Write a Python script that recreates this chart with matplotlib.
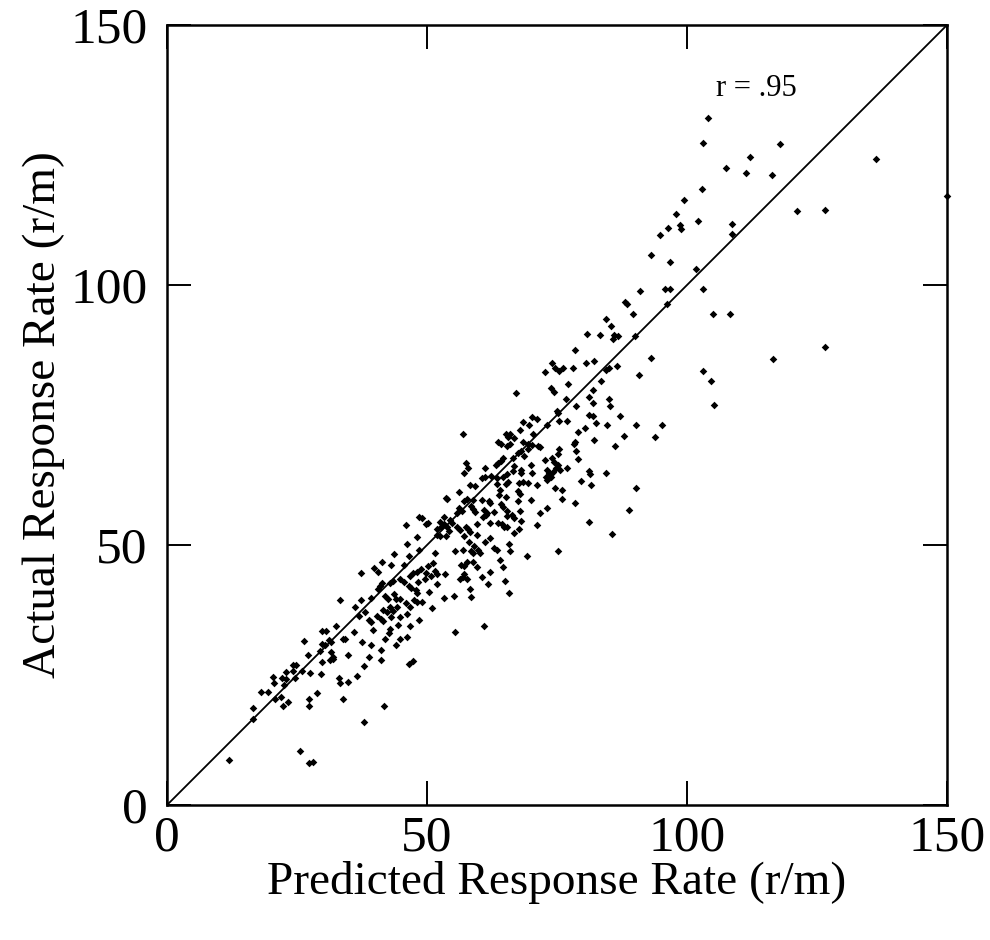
import numpy as np
import matplotlib
matplotlib.use("Agg")
import matplotlib.pyplot as plt

# predicted (x) vs actual (y) response rates
pred = [11.9, 25.6, 27.4, 28.0, 16.5, 16.5, 18.1, 19.4, 20.7, 22.0, 22.4, 23.2, 20.3, 20.6, 22.1, 22.8,
        22.5, 22.9, 24.2, 24.2, 24.8, 24.7, 26.0, 26.3, 27.1, 27.5, 29.7, 27.4, 27.4, 28.9, 29.4, 29.9,
        29.9, 30.3, 29.9, 30.6, 31.2, 31.5, 31.6, 31.3, 31.9, 32.0, 32.5, 33.0, 33.3, 33.8, 33.9, 34.3,
        34.9, 34.9, 36.0, 36.6,
        46.0, 49.9, 48.0, 46.2, 48.5, 51.6, 43.7, 46.5, 41.3, 43.1, 39.9, 40.6, 37.3, 45.6, 48.1, 48.9,
        50.2, 51.1, 49.9, 50.7, 51.6, 52.0, 53.4, 41.3, 41.0, 42.9, 43.5, 44.8, 45.6, 46.7, 47.4, 48.3,
        49.7, 52.0, 46.5, 47.0, 47.8, 48.1, 50.3, 40.6, 39.2, 42.0, 42.5, 43.7, 44.0, 44.9, 46.0, 47.5,
        48.0, 49.0, 37.4, 33.3, 36.1, 38.1, 37.0, 40.4, 41.5, 42.3, 42.9, 43.5, 44.2, 46.7, 46.1, 44.9,
        41.2, 41.6, 43.0, 38.8, 39.2, 39.6, 42.9, 42.6, 44.4, 48.4, 46.8, 50.9, 53.3, 37.5, 42.0, 44.8,
        46.2, 39.2, 44.0, 41.2, 38.9, 41.2, 37.8, 46.5, 47.4,
        57.0, 57.5, 57.8, 57.2, 58.3, 59.3, 56.1, 53.7, 53.9, 57.6, 57.2, 58.9, 56.1, 56.7, 55.7, 58.5,
        58.9, 59.2, 48.5, 49.0, 50.1, 53.2, 52.5, 53.3, 54.4, 54.8, 52.0, 52.7, 53.9, 54.3, 55.7, 56.3,
        57.5, 57.9, 58.3, 59.7, 51.9, 52.5, 53.7, 57.1, 59.7,
        63.4, 65.1, 65.6, 67.6, 68.5, 69.5, 64.0, 63.8, 67.4, 67.8, 65.1, 62.0, 62.2, 60.6, 67.5, 69.9,
        64.3, 64.6, 61.0, 61.5, 62.9, 65.4, 67.9, 60.8, 61.3, 65.3, 66.4, 66.8, 62.1, 63.7, 64.4, 64.8,
        68.1, 71.1, 65.3, 66.8, 67.6, 62.1, 61.1, 65.8, 62.9, 63.4, 66.0, 69.3, 64.0, 64.7, 62.2, 60.6,
        64.9, 61.8, 65.7, 58.0, 59.0, 59.8, 60.1, 58.4, 58.9, 57.0, 55.3, 57.6, 58.8, 56.6, 57.2, 59.6,
        57.1, 57.0, 57.6, 56.3, 58.3, 58.4, 55.1,
        67.1, 73.9, 74.4, 77.1, 81.2, 76.7, 78.7, 74.9, 75.2, 70.2, 71.2, 68.5, 69.7, 73.1, 75.3, 76.9,
        81.1, 82.5, 67.8, 65.1, 65.6, 66.0, 66.8, 70.3, 68.5, 69.5, 70.2, 63.7, 64.3, 65.4, 65.9, 71.3,
        71.7, 78.5, 78.3, 79.0, 80.3, 82.1, 64.7, 64.2, 66.6, 67.4, 68.0, 68.7, 69.4, 63.3, 63.7, 61.1,
        66.8, 66.6, 68.0, 68.1, 70.0, 70.2, 72.6, 73.1, 74.0, 74.4, 75.1, 75.4, 74.8, 75.2, 75.6, 78.7,
        79.0, 76.9, 73.4, 74.3, 73.9, 72.8, 73.1, 81.1, 79.7, 60.6, 61.2, 62.3, 63.4, 64.7, 65.3, 81.5,
        74.7, 76.0, 71.1, 73.1, 78.5, 71.8,
        88.1, 88.4, 96.2, 89.7, 84.4, 85.3, 80.8, 83.3, 86.0, 86.7, 85.8, 89.9, 78.5, 80.6, 82.2, 74.0,
        72.6, 74.7, 75.4, 76.1, 78.0, 84.5, 84.9, 86.6, 93.1, 90.7, 83.5, 82.0, 84.9, 85.2, 82.0, 87.1,
        82.0, 84.7, 90.2, 95.2,
        87.9, 93.8, 86.1, 81.3, 84.5, 90.2, 76.0, 88.9, 81.2, 85.6, 75.2,
        93.1, 96.7, 101.7, 91.0, 95.8, 96.7, 103.1, 104.9, 108.3, 116.6, 103.1, 104.7, 105.2,
        103.1, 117.8, 112.1, 107.4, 111.3, 116.3, 102.8, 99.4, 121.1, 126.6, 98.7, 98.8, 102.1, 108.7,
        108.7, 126.5, 136.3, 149.9, 104.0,
        94.8, 96.3, 97.9, 37.9, 41.7, 55.4, 61.0]
actual = [8.7, 10.4, 8.1, 8.3, 16.5, 18.7, 21.8, 21.8, 20.3, 20.7, 19.0, 19.8, 24.6, 23.4, 24.4, 24.3,
          23.0, 25.6, 25.7, 26.9, 26.9, 24.5, 25.8, 31.5, 28.9, 25.3, 25.2, 20.4, 19.0, 21.5, 29.6, 27.5,
          31.0, 30.8, 33.5, 33.5, 31.7, 31.4, 29.5, 27.8, 28.0, 28.5, 34.4, 24.5, 23.4, 20.3, 32.0, 32.0,
          28.8, 23.7, 33.3, 24.9,
          53.8, 54.0, 51.6, 50.2, 49.1, 48.4, 48.3, 47.8, 46.7, 46.1, 45.6, 44.8, 44.7, 46.1, 44.8, 45.3,
          46.0, 46.6, 44.7, 44.1, 45.0, 44.5, 44.4, 42.6, 42.2, 42.7, 43.1, 43.4, 42.9, 44.0, 44.7, 42.9,
          43.5, 42.5, 42.2, 41.7, 41.4, 40.8, 41.0, 41.6, 39.9, 40.2, 39.7, 40.6, 39.7, 39.7, 38.9, 39.5,
          39.0, 39.1, 39.5, 39.5, 38.0, 37.2, 36.4, 36.4, 37.5, 37.1, 38.0, 37.3, 38.1, 38.0, 36.7, 36.1,
          35.7, 35.3, 36.1, 35.6, 35.2, 33.7, 33.8, 33.0, 34.6, 35.6, 34.5, 37.9, 39.8, 31.4, 32.0, 32.0,
          32.4, 30.7, 30.7, 29.9, 28.4, 27.9, 26.8, 27.2, 27.6,
          71.4, 65.7, 64.9, 63.9, 61.6, 61.3, 60.2, 59.0, 58.8, 58.9, 58.5, 58.7, 57.2, 56.6, 56.2, 57.5,
          56.9, 56.3, 55.3, 55.2, 54.3, 55.3, 54.5, 54.1, 54.8, 54.3, 53.1, 53.4, 53.4, 52.6, 53.5, 52.9,
          53.5, 53.1, 52.5, 54.1, 51.9, 51.7, 51.8, 51.8, 51.9,
          61.7, 61.8, 62.2, 61.9, 62.2, 61.9, 60.6, 59.7, 60.3, 59.9, 59.3, 58.4, 58.0, 58.7, 58.5, 58.7,
          57.9, 57.3, 56.8, 56.2, 56.4, 56.6, 56.6, 55.4, 55.8, 55.6, 55.7, 55.2, 54.3, 54.3, 54.1, 53.5,
          54.6, 53.8, 53.4, 52.4, 53.1, 51.4, 50.6, 50.2, 49.4, 49.0, 48.9, 47.9, 47.1, 45.7, 44.9, 43.8,
          43.0, 42.5, 40.8, 50.5, 49.8, 49.0, 48.5, 48.8, 48.4, 49.0, 48.9, 46.7, 46.8, 46.2, 46.0, 45.7,
          44.4, 43.9, 43.4, 43.4, 41.6, 40.0, 40.2,
          79.3, 80.1, 79.5, 81.0, 78.4, 78.1, 76.8, 75.8, 75.3, 74.7, 74.3, 73.7, 73.0, 73.0, 73.8, 73.8,
          75.0, 73.4, 72.2, 71.4, 70.8, 71.4, 70.6, 71.4, 69.8, 69.5, 69.3, 69.8, 69.5, 69.1, 69.4, 69.1,
          68.8, 69.9, 69.5, 71.7, 72.5, 70.2, 66.7, 66.2, 66.8, 67.7, 68.1, 67.2, 68.5, 65.4, 65.8, 64.9,
          65.2, 64.3, 64.5, 63.8, 65.3, 63.8, 66.4, 64.5, 66.7, 66.0, 67.5, 68.5, 64.8, 65.3, 64.5, 68.1,
          66.6, 64.8, 63.8, 64.0, 63.0, 63.0, 62.5, 64.3, 62.3, 62.9, 63.1, 63.3, 62.8, 63.1, 63.7, 61.6,
          61.0, 60.6, 61.5, 57.1, 58.0, 56.1,
          96.7, 96.4, 96.3, 94.5, 93.4, 92.1, 90.6, 90.3, 90.4, 90.2, 89.7, 90.2, 87.5, 85.0, 85.4, 85.0,
          83.3, 84.0, 83.4, 84.1, 84.1, 83.7, 84.0, 84.5, 86.0, 82.6, 81.5, 79.8, 78.1, 76.8, 77.4, 74.9,
          74.8, 73.1, 73.0, 73.1,
          71.0, 70.8, 69.0, 63.7, 63.8, 61.0, 58.8, 56.7, 54.4, 52.1, 48.8,
          105.8, 104.4, 103.0, 98.8, 99.3, 99.3, 99.3, 94.4, 94.5, 85.8, 83.4, 81.6, 77.0,
          127.4, 127.2, 124.7, 122.5, 121.5, 121.2, 118.5, 116.4, 114.2, 114.4, 111.6, 110.7, 112.4, 111.7,
          109.9, 88.1, 124.2, 117.1, 132.1,
          109.6, 111.0, 113.7, 16.0, 19.0, 33.3, 34.4]

r_text = "r = .95"

plt.rcParams['font.family'] = ['Liberation Serif', 'DejaVu Serif']

fig = plt.figure(figsize=(9.9, 9.4), dpi=100)
ax = fig.add_axes([0.1687, 0.1436, 0.7879, 0.8298])

ax.plot([0, 150], [0, 150], color='black', lw=1.3)
ax.scatter(pred, actual, marker='D', s=15, color='black', linewidths=0, zorder=3, clip_on=False)
ax.text(105.5, 136.3, r_text, fontsize=22)

ax.set_xlim(0, 150)
ax.set_ylim(0, 150)
ax.set_xticks([0, 50, 100, 150])
ax.set_yticks([0, 50, 100, 150])
ax.tick_params(direction='in', length=17, width=1.4, labelsize=37,
               top=True, right=True)
ax.tick_params(axis='x', pad=7)
ax.tick_params(axis='y', pad=14)
for sp in ax.spines.values():
    sp.set_linewidth(1.8)

ax.set_xlabel('Predicted Response Rate (r/m)', fontsize=34, labelpad=0)
ax.set_ylabel('Actual Response Rate (r/m)', fontsize=34, labelpad=4)

fig.savefig('out.png', dpi=100)
